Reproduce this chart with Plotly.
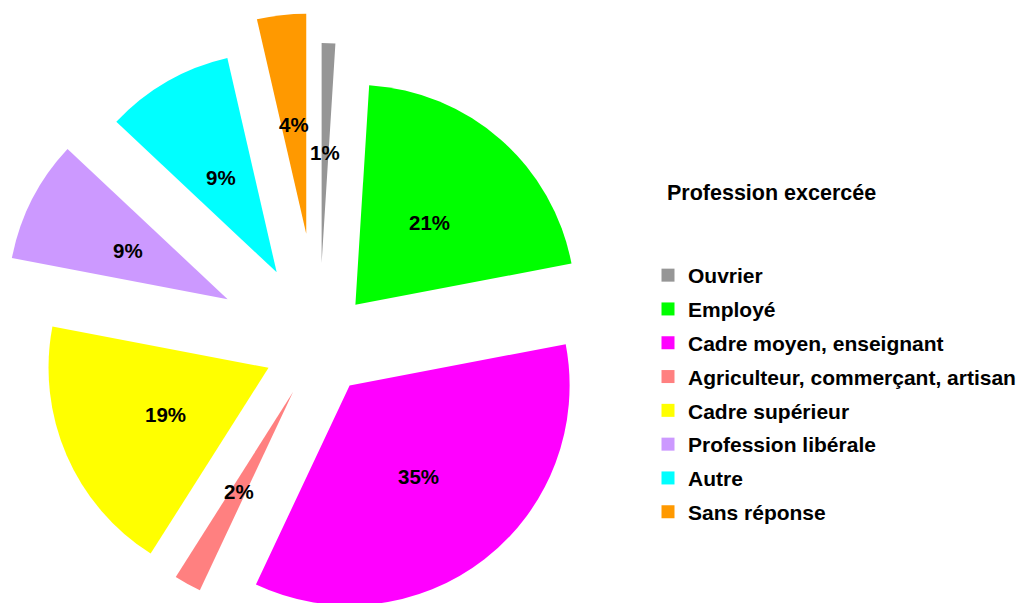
import math
import plotly.graph_objects as go

# ---- data ----
categories = ["Ouvrier", "Employé", "Cadre moyen, enseignant",
              "Agriculteur, commerçant, artisan", "Cadre supérieur",
              "Profession libérale", "Autre", "Sans réponse"]
values = [1.0, 21.0, 35.0, 2.0, 19.0, 9.0, 9.4, 3.6]
legend_title = "Profession excercée"

# ---- style ----
colors = ["#969696", "#00FF00", "#FF00FF", "#FF8080",
          "#FFFF00", "#CC99FF", "#00FFFF", "#FF9900"]
explode = [0.377, 0.25, 0.227, 0.245, 0.25, 0.468, 0.386, 0.514]

W, H = 1029, 603
CX, CY, R = 311, 338, 220
FONT = "Arial, 'Liberation Sans', sans-serif"

fig = go.Figure()
total = sum(values)
start = 0.0
annotations = []
for i, (lab, v) in enumerate(zip(categories, values)):
    f0 = start / total
    f1 = (start + v) / total
    start += v
    mid = (f0 + f1) * math.pi
    ux, uy = math.sin(mid), -math.cos(mid)
    pcx = CX + explode[i] * R * ux
    pcy = CY + explode[i] * R * uy
    x0 = max(0.0, (pcx - R) / W)
    x1 = min(1.0, (pcx + R) / W)
    y0 = max(0.0, 1 - (pcy + R) / H)
    y1 = min(1.0, 1 - (pcy - R) / H)
    bw = (x1 - x0) * W
    bh = (y1 - y0) * H
    r = min(bw, bh) / 2
    acx = (x0 + x1) / 2 * W
    acy = (1 - y1) * H + bh / 2
    slice_colors = [c if j == i else "rgba(0,0,0,0)" for j, c in enumerate(colors)]
    fig.add_trace(go.Pie(
        labels=categories, values=values, sort=False, direction="clockwise",
        rotation=0, marker=dict(colors=slice_colors, line=dict(width=0)),
        textinfo="none", showlegend=False, hoverinfo="label+percent",
        domain=dict(x=[x0, x1], y=[y0, y1]),
    ))
    tx = acx + 0.51 * r * ux
    ty = acy + 0.51 * r * uy
    annotations.append(dict(
        x=tx / W, y=1 - ty / H, xref="paper", yref="paper",
        xanchor="center", yanchor="middle", yshift=-2,
        text=f"{round(100 * v / total)}%", showarrow=False,
        font=dict(family=FONT, size=20.5, color="black", weight="bold"),
    ))

for lab, col in zip(categories, colors):
    fig.add_trace(go.Scatter(
        x=[None], y=[None], mode="markers", name=lab, legendgroup=lab,
        marker=dict(symbol="square", size=13, color=col), showlegend=True,
        hoverinfo="skip",
    ))

annotations.append(dict(
    x=657 / W, y=1 - 185 / H, xref="paper", yref="paper", xanchor="left",
    yanchor="middle", text=legend_title, showarrow=False,
    font=dict(family=FONT, size=21.5, color="black", weight="bold"),
))

fig.update_layout(
    width=W, height=H, margin=dict(l=0, r=0, t=0, b=0),
    paper_bgcolor="white", plot_bgcolor="white",
    xaxis=dict(visible=False), yaxis=dict(visible=False),
    annotations=annotations,
    legend=dict(x=640 / W, y=1 - 247 / H, xanchor="left", yanchor="top",
                font=dict(family=FONT, size=21, color="black", weight="bold"),
                tracegroupgap=3.5, bgcolor="rgba(0,0,0,0)"),
)

fig.write_html("out.html")
